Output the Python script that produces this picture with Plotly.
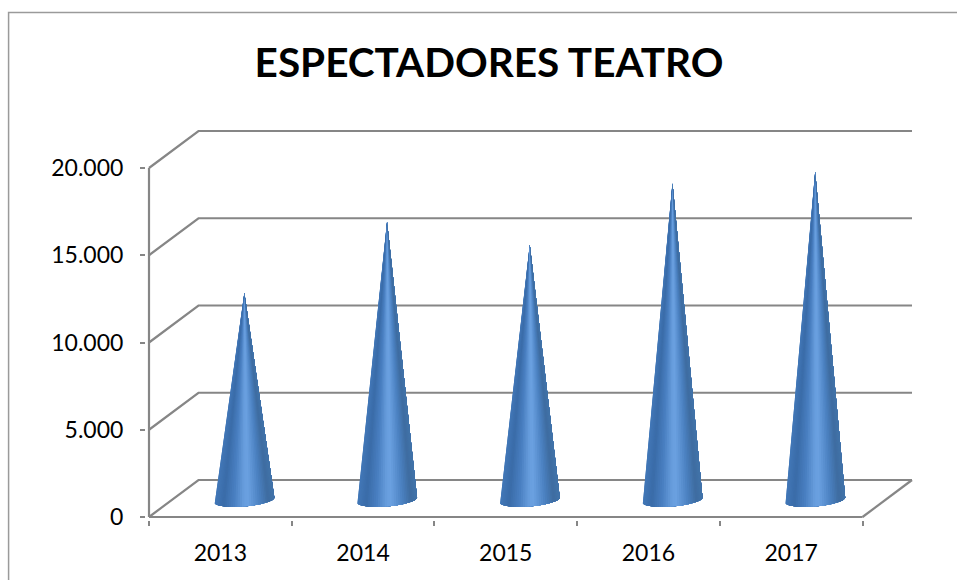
import plotly.graph_objects as go
import math

# ---- data ----
years = ["2013", "2014", "2015", "2016", "2017"]
espectadores = [11800, 15870, 14550, 18100, 18740]
y_ticks = [0, 5000, 10000, 15000, 20000]
y_tick_labels = ["0", "5.000", "10.000", "15.000", "20.000"]
title_text = "ESPECTADORES TEATRO"

# ---- style / geometry ----
W, H = 957, 580
L, R, T, B = 149, 863, 168, 517        # front face of the 3-D box
DX, DY = 49.5, 37                      # depth of the box in pixels
PAD = 3                                # spare room so edge lines are not clipped
px_x = (R - L) / len(years)            # pixels per category
px_y = (B - T) / 20000                 # pixels per value unit
depth_x = DX / px_x
depth_y = DY / px_y
cone_x = 24 / px_x                     # cone axis sits mid-depth
cone_y = 17 / px_y
apex_off = 18 / px_y
base_rx = 30 / px_x
base_ry = 6.5 / px_y
base_tilt = 2.5 / px_y
GRID = "#868686"
TEXT = "#000000"
stops = [(0.00, (66, 120, 184)), (0.15, (58, 108, 168)), (0.32, (72, 126, 192)),
         (0.50, (104, 158, 222)), (0.57, (106, 160, 224)), (0.75, (76, 130, 194)),
         (0.90, (62, 108, 160)), (1.00, (66, 116, 170))]


def shade(u):
    for (a, ca), (b, cb) in zip(stops, stops[1:]):
        if u <= b:
            t = (u - a) / (b - a)
            return "rgb(%d,%d,%d)" % tuple(round(p + (q - p) * t) for p, q in zip(ca, cb))
    return "rgb(%d,%d,%d)" % stops[-1][1]


fig = go.Figure()


def line(xs, ys, width=2.2):
    fig.add_trace(go.Scatter(x=xs, y=ys, mode="lines", hoverinfo="skip", showlegend=False,
                             line=dict(color=GRID, width=width)))


x0, x1 = -0.5, len(years) - 0.5
for v in y_ticks:
    line([x0, x0 + depth_x, x1 + depth_x], [v, v + depth_y, v + depth_y])
line([x1, x1 + depth_x], [0, depth_y])
line([x0, x1], [0, 0])
line([x0, x0], [0, y_ticks[-1]])

SLICES = 40
for i, v in enumerate(espectadores):
    cx = i + cone_x
    cy = cone_y
    apex_y = v + apex_off
    for k in range(SLICES):
        # painter's layers: every layer reaches to the right edge, the next one covers it
        angles = [math.pi * (1 + m / SLICES) for m in range(k, SLICES + 1)]
        xs = [cx + base_rx * math.cos(a) for a in angles]
        ys = [cy + base_ry * math.sin(a) + base_tilt * math.cos(a) for a in angles]
        c = shade((1 + math.cos(math.pi * (1 + (k + 0.5) / SLICES))) / 2)
        fig.add_trace(go.Scatter(
            x=[cx] + xs + [cx], y=[apex_y] + ys + [apex_y],
            mode="lines", fill="toself", fillcolor=c,
            line=dict(width=0), hoverinfo="skip", showlegend=False))

plot_w = R + DX + 2 * PAD - L
plot_h = B - T + DY + 2 * PAD
pl, pb = L - PAD, B + PAD      # plot-area left and bottom, in pixels


def paper_x(p):
    return (p - pl) / plot_w


def paper_y(p):
    return (pb - p) / plot_h


fig.update_layout(
    width=W, height=H, autosize=False,
    margin=dict(l=pl, r=W - pl - plot_w, t=pb - plot_h, b=H - pb, pad=0),
    paper_bgcolor="white", plot_bgcolor="rgba(0,0,0,0)", showlegend=False,
    font=dict(family="Lato", color=TEXT, size=23),
    title=dict(text="<b>%s</b>" % title_text, font=dict(family="Lato", size=40.5, color=TEXT),
               x=489 / W, xref="container", xanchor="center",
               y=1 - 63 / H, yref="container", yanchor="middle", automargin=False),
    xaxis=dict(range=[x0 - PAD / px_x, x1 + depth_x + PAD / px_x], tickmode="array",
               tickvals=list(range(len(years))), ticktext=years, automargin=False,
               ticks="", ticklabelstandoff=17, showgrid=False, zeroline=False, showline=False,
               minor=dict(tickmode="array", tickvals=[j - 0.5 for j in range(len(years) + 1)],
                          ticks="outside", ticklen=5, tickwidth=2, tickcolor=GRID, showgrid=False)),
    yaxis=dict(range=[-PAD / px_y, y_ticks[-1] + depth_y + PAD / px_y], tickmode="array",
               tickvals=y_ticks, ticktext=y_tick_labels, automargin=False, ticklabelstandoff=12,
               ticks="outside", ticklen=5, tickwidth=2, tickcolor=GRID, showgrid=False,
               zeroline=False, showline=False),
    shapes=[dict(type="path", xref="paper", yref="paper",
                 path="M %f,%f L %f,%f L %f,%f" % (
                     paper_x(8.5), paper_y(600), paper_x(8.5), paper_y(12.5),
                     paper_x(960), paper_y(12.5)),
                 line=dict(color="#9a9a9a", width=1.5))],
)
fig.write_html("out.html", config=dict(displayModeBar=False),
               post_script="document.body.style.margin='0';")
